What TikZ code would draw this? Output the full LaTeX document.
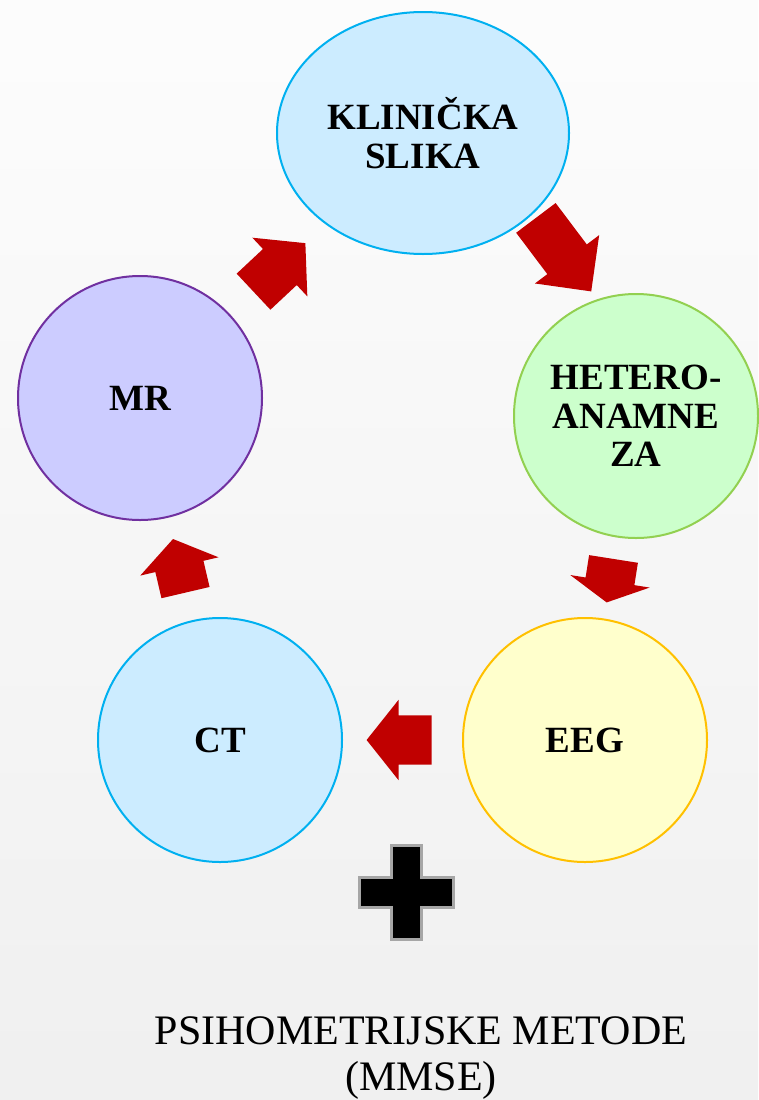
\documentclass[tikz,border=0pt]{standalone}
\usepackage{fontspec}
\setmainfont{Liberation Serif}
\usetikzlibrary{shapes.geometric,shapes.arrows}
\definecolor{arrowred}{HTML}{C00000}
\definecolor{skyfill}{HTML}{CCECFF}
\definecolor{skyline}{HTML}{00B0F0}
\definecolor{mintfill}{HTML}{CCFFCC}
\definecolor{mintline}{HTML}{92D050}
\definecolor{lemonfill}{HTML}{FFFFCC}
\definecolor{lemonline}{HTML}{FFC000}
\definecolor{lilacfill}{HTML}{CCCCFF}
\definecolor{lilacline}{HTML}{7030A0}
\begin{document}
\begin{tikzpicture}[x=1pt,y=-1pt,
  stage/.style={circle,minimum size=244pt,inner sep=0pt,line width=2pt,align=center,
    font=\fontsize{37}{38.5}\selectfont\bfseries},
  flow/.style={single arrow,fill=arrowred,inner sep=0pt,inner ysep=24.5pt,
    single arrow head extend=15.5pt,minimum width=80pt,anchor=center,sloped,allow upside down}]
\useasboundingbox (0,0) rectangle (758,1100);
\shade[top color=gray!2,bottom color=gray!12] (0,0) rectangle (758,1100);
% the five stages
\node[stage,ellipse,minimum width=292pt,minimum height=242pt,draw=skyline,fill=skyfill] (klin) at (423,133) {KLINIČKA\\SLIKA};
\node[stage,draw=mintline,fill=mintfill] (het) at (636,416) {HETERO-\\ANAMNE\\ZA};
\node[stage,draw=lemonline,fill=lemonfill] (eeg) at (585,740) {EEG};
\node[stage,draw=skyline,fill=skyfill] (ct) at (220,740) {CT};
\node[stage,draw=lilacline,fill=lilacfill] (mr) at (140,398) {MR};
% block arrows between them
\path (mr) -- node[flow,pos=0.437,minimum height=71pt,single arrow tip angle=98] (up1) {} (klin);
\path ([xshift=49pt]klin.center) -- node[flow,pos=0.395,minimum height=92pt,single arrow tip angle=90] (dn1) {} ([xshift=49pt]het.center);
\path (het) -- node[flow,pos=0.453,minimum height=44pt,single arrow tip angle=124] (dn2) {} (eeg);
\path (eeg) -- node[flow,pos=0.446,minimum height=65pt,single arrow tip angle=103] (lt1) {} (ct);
\path (ct) -- node[flow,pos=0.449,minimum height=55pt,single arrow tip angle=110] (up2) {} (mr);
% plus and the note below
\coordinate (plus) at (406,892);
\filldraw[fill=black,draw=gray!70,line width=3pt,shift={(plus)}]
  (-15,-47) -- (15,-47) -- (15,-15) -- (47,-15) -- (47,15) -- (15,15) -- (15,47)
  -- (-15,47) -- (-15,15) -- (-47,15) -- (-47,-15) -- (-15,-15) -- cycle;
\node[font=\fontsize{42}{46}\selectfont,align=center] (psi) at (421,1058) {PSIHOMETRIJSKE METODE\\(MMSE)};
\end{tikzpicture}
\end{document}
